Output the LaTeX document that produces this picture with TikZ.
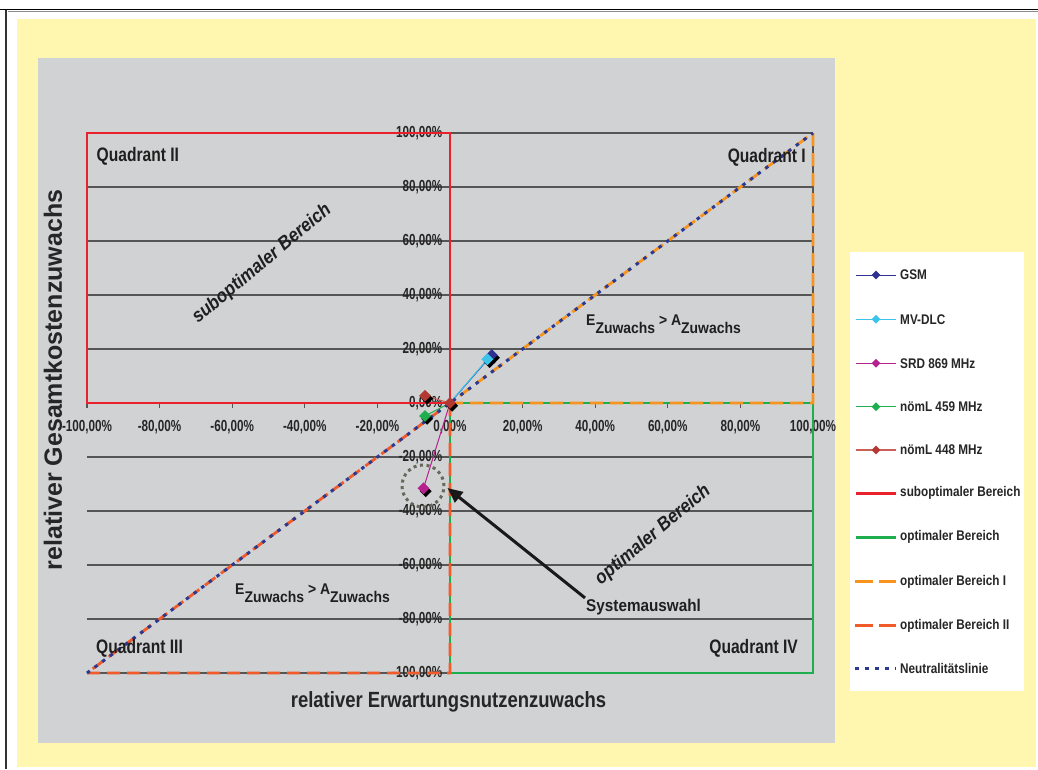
\documentclass[tikz,border=0pt]{standalone}
\usepackage{fontspec}
\setmainfont{Liberation Sans}
\newfontfamily\fTick[FakeStretch=0.73]{Liberation Sans}
\newfontfamily\fQuad[FakeStretch=0.80]{Liberation Sans}
\newfontfamily\fTitle[FakeStretch=0.84]{Liberation Sans}
\newfontfamily\fLeg[FakeStretch=0.84]{Liberation Sans}
\newfontfamily\fMid[FakeStretch=0.90]{Liberation Sans}
\usetikzlibrary{shapes.geometric,arrows.meta,shadows,calc}

\definecolor{paper}{HTML}{FFF6B0}
\definecolor{plotbg}{HTML}{D1D2D4}
\definecolor{gridc}{HTML}{555555}
\definecolor{subred}{HTML}{E8212B}
\definecolor{optgreen}{HTML}{1EAE4D}
\definecolor{optorange}{HTML}{F7941D}
\definecolor{optred}{HTML}{F15A29}
\definecolor{neutblue}{HTML}{2B3990}
\definecolor{gsmc}{HTML}{2E3192}
\definecolor{mvc}{HTML}{3CC3EA}
\definecolor{srdc}{HTML}{B5228E}
\definecolor{nlgc}{HTML}{1EAE4D}
\definecolor{nlbc}{HTML}{B33A32}
\definecolor{nlbline}{HTML}{C9605A}
\definecolor{ringc}{HTML}{67675A}

\begin{document}
\begin{tikzpicture}[x=1pt,y=-1pt,
  gridline/.style={draw=gridc,line width=1.1pt},
  serline/.style={line width=1pt,draw=#1},
  dmark/.style={diamond,minimum size=12pt,inner sep=0pt,fill=#1,
    general shadow={fill=black,shadow xshift=2.2pt,shadow yshift=-2.8pt}},
  legmark/.style={diamond,minimum size=9pt,inner sep=0pt,fill=#1},
  subline/.style={draw=subred,line width=2.4pt},
  optline/.style={draw=optgreen,line width=2.4pt},
  orIline/.style={draw=optorange,line width=2.8pt,dash pattern=on 13pt off 7pt},
  orIIline/.style={draw=optred,line width=2.8pt,dash pattern=on 13pt off 7pt},
  neutline/.style={draw=neutblue,line width=3pt,dash pattern=on 3.5pt off 6pt},
  ticklab/.style={font=\fTick\bfseries\fontsize{16}{19}\selectfont,text=black!85,inner sep=0pt},
  quadlab/.style={font=\fQuad\bfseries\fontsize{19.5}{23}\selectfont,text=black!88,inner sep=0pt},
  leglab/.style={font=\fLeg\bfseries\fontsize{14}{17}\selectfont,text=black!85,anchor=west,inner sep=0pt},
  midlab/.style={font=\fMid\bfseries\fontsize{15.5}{19}\selectfont,text=black!88,inner sep=0pt},
  arealab/.style={font=\fMid\bfseries\itshape\fontsize{19}{23}\selectfont,text=black!88,inner sep=0pt,rotate=40}
]
\useasboundingbox (0,0) rectangle (1038,769);
\fill[white] (0,0) rectangle (1038,769);

% page frame
\draw[black,line width=1.8pt] (0,9.5) -- (1038,9.5);
\draw[black!45,line width=1pt] (8,11.6) -- (1038,11.6);
\draw[black!80,line width=1.2pt] (6,9.5) -- (6,769);

% backgrounds
\fill[paper] (16.5,19) rectangle (1036,766.7);
\fill[plotbg] (38,57.7) rectangle (835,743.3);
\fill[white] (850,252) rectangle (1024,690.7);

% ---------- chart in percent coordinates ----------
\begin{scope}[shift={(450,403)},x=3.63pt,y=2.7pt]
  % grid and axis
  \foreach \v in {-100,-80,...,100}
    \draw[gridline] (-100,\v) -- (100,\v);
  \draw[gridline] (100,0) -- (100,100);
  \foreach \v in {-100,-80,...,100}
    \draw[gridline] (\v,0) -- ++(0,-4.5pt);

  % tick labels
  \foreach \v [count=\k] in {-100,-80,...,100} {
    \node[ticklab,anchor=east] (yl\k) at ([xshift=-7.5pt]0,\v) {\v,00\%};
    \node[ticklab] (xl\k) at ([yshift=-24.5pt]\v,0) {\v,00\%};
  }

  % data points
  \coordinate (O) at (0,0);
  \coordinate (pGSM) at (11.5,17.8);
  \coordinate (pMV) at (10.3,16.2);
  \coordinate (pSRD) at (-7.3,-31.6);
  \coordinate (pNG) at (-6.9,-4.8);
  \coordinate (pNB) at (-6.9,2.7);

  % series lines from the origin
  \draw[serline=gsmc] (O) -- (pGSM);
  \draw[serline=mvc] (O) -- (pMV);
  \draw[serline=srdc] (O) -- (pSRD);
  \draw[serline=nlgc] (O) -- (pNG);
  \draw[serline=nlbline] (O) -- (pNB);

  % areas
  \draw[subline] (-100,0) rectangle (0,100);
  \draw[optline] (0,0) rectangle (100,-100);
  \draw[orIline] (0,0) -- (100,0) -- (100,100) -- cycle;
  \draw[orIIline] (0,0) -- (0,-100) -- (-100,-100) -- cycle;
  \draw[neutline] (-100,-100) -- (100,100);

  % markers
  \node[dmark=gsmc] (mGSM) at (pGSM) {};
  \node[dmark=mvc] (mMV) at (pMV) {};
  \node[dmark=srdc] (mSRD) at (pSRD) {};
  \node[dmark=nlgc] (mNG) at (pNG) {};
  \node[dmark=nlbc] (mNB) at (pNB) {};
  \node[dmark=nlbc] (mO) at (O) {};
\end{scope}

% quadrant names
\node[quadlab,anchor=west] (q2) at (96.5,156) {Quadrant II};
\node[quadlab,anchor=east] (q1) at (806,157) {Quadrant I};
\node[quadlab,anchor=west] (q3) at (96,648) {Quadrant III};
\node[quadlab,anchor=east] (q4) at (798,648) {Quadrant IV};

% area names
\node[arealab] (subb) at (262,264) {suboptimaler Bereich};
\node[arealab] (optb) at (653,535) {optimaler Bereich};

% relation labels
\node[midlab,anchor=base west] (rel1) at (586,325)
  {E\raisebox{-8.5pt}{Zuwachs} > A\raisebox{-8.5pt}{Zuwachs}};
\node[midlab,anchor=base west] (rel2) at (235,594)
  {E\raisebox{-8.5pt}{Zuwachs} > A\raisebox{-8.5pt}{Zuwachs}};

% selected system
\node[circle,minimum size=42pt,inner sep=0pt,draw=ringc,line width=3pt,
  dash pattern=on 3pt off 3.6pt] (ring) at (423,486) {};
\node[midlab,font=\fMid\bfseries\fontsize{17}{20}\selectfont,anchor=west,inner sep=1pt] (sys) at (585,607) {Systemauswahl};
\draw[black!90,line width=3pt,-{Triangle[length=15pt,width=13pt]}]
  (sys.north west) -- ([xshift=2pt,yshift=-2pt]ring.east);

% axis titles
\node[font=\fTitle\bfseries\fontsize{22}{26}\selectfont,text=black!85,inner sep=0pt] (xt) at (448.5,702) {relativer Erwartungsnutzenzuwachs};
\node[font=\bfseries\fontsize{25}{30}\selectfont,text=black!85,inner sep=0pt,rotate=90] (yt) at (53,380) {relativer Gesamtkostenzuwachs};

% ---------- legend ----------
\coordinate (la1) at (856,275);   \coordinate (lb1) at (896,275);
\coordinate (la2) at (856,319.3); \coordinate (lb2) at (896,319.3);
\coordinate (la3) at (856,363.3); \coordinate (lb3) at (896,363.3);
\coordinate (la4) at (856,406.7); \coordinate (lb4) at (896,406.7);
\coordinate (la5) at (856,450);   \coordinate (lb5) at (896,450);
\coordinate (la6) at (856,493.3); \coordinate (lb6) at (896,493.3);
\coordinate (la7) at (856,537.3); \coordinate (lb7) at (896,537.3);
\coordinate (la8) at (855,581.7); \coordinate (lb8) at (896,581.7);
\coordinate (la9) at (855,625.7); \coordinate (lb9) at (896,625.7);
\coordinate (la10) at (855,668.3);\coordinate (lb10) at (896,668.3);

\draw[serline=gsmc] (la1) -- (lb1);
\node[legmark=gsmc] (lm1) at ($(la1)!0.5!(lb1)$) {};
\draw[serline=mvc,line width=1.6pt] (la2) -- (lb2);
\node[legmark=mvc] (lm2) at ($(la2)!0.5!(lb2)$) {};
\draw[serline=srdc,line width=1.4pt] (la3) -- (lb3);
\node[legmark=srdc] (lm3) at ($(la3)!0.5!(lb3)$) {};
\draw[serline=nlgc,line width=1.4pt] (la4) -- (lb4);
\node[legmark=nlgc] (lm4) at ($(la4)!0.5!(lb4)$) {};
\draw[serline=nlbline,line width=1.6pt] (la5) -- (lb5);
\node[legmark=nlbc] (lm5) at ($(la5)!0.5!(lb5)$) {};
\draw[subline] (la6) -- (lb6);
\draw[optline] (la7) -- (lb7);
\draw[orIline,dash pattern=on 18pt off 6pt] (la8) -- (lb8);
\draw[orIIline,dash pattern=on 18pt off 6pt] (la9) -- (lb9);
\draw[neutline,dash pattern=on 4pt off 6pt] (la10) -- (lb10);

\node[leglab] (lt1) at (900,275) {GSM};
\node[leglab] (lt2) at (900,319.3) {MV-DLC};
\node[leglab] (lt3) at (900,363.3) {SRD 869 MHz};
\node[leglab] (lt4) at (900,406.7) {nömL 459 MHz};
\node[leglab] (lt5) at (900,450) {nömL 448 MHz};
\node[leglab] (lt6) at (900,493.3) {suboptimaler Bereich};
\node[leglab] (lt7) at (900,537.3) {optimaler Bereich};
\node[leglab] (lt8) at (900,581.7) {optimaler Bereich I};
\node[leglab] (lt9) at (900,625.7) {optimaler Bereich II};
\node[leglab] (lt10) at (900,668.3) {Neutralitätslinie};
\end{tikzpicture}
\end{document}
